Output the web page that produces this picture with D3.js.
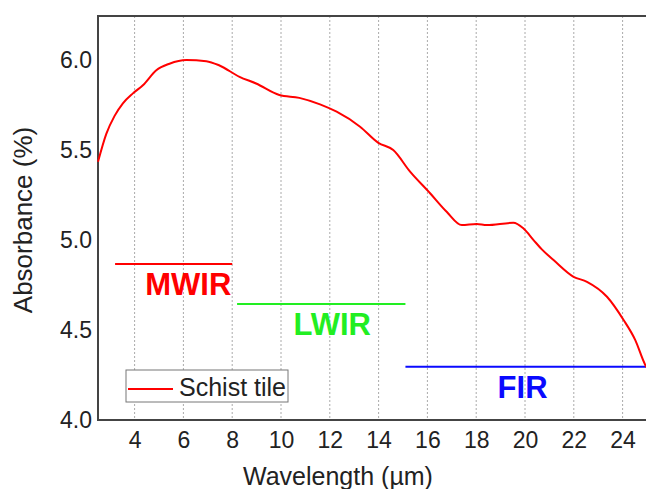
<!DOCTYPE html>
<html>
<head>
<meta charset="utf-8">
<script src="https://cdn.jsdelivr.net/npm/d3@7"></script>
<style>
  body { margin: 0; background: #fff; }
  text { font-family: "Liberation Sans", Arial, sans-serif; }
</style>
</head>
<body>
<div id="chart"></div>
<script>
"use strict"

// spectrum
let wavelength = [2.5, 2.84, 3.18, 3.52, 3.93, 4.34, 4.89, 5.43, 6.12, 6.94, 7.48, 8.3, 8.98, 9.93,
    10.75, 11.6, 12.28, 13.24, 13.99, 14.6, 15.29, 16.11, 16.79, 17.41, 18.02, 18.43, 19.52,
    19.93, 20.35, 20.69, 21.17, 21.99, 22.54, 23.36, 24.04, 24.52, 24.93, 25];
let absorbance = [5.435, 5.59, 5.69, 5.76, 5.815, 5.86, 5.944, 5.98, 6.0, 5.994, 5.97, 5.907, 5.87, 5.806,
    5.79, 5.754, 5.713, 5.63, 5.54, 5.5, 5.38, 5.26, 5.157, 5.083, 5.089, 5.083, 5.096,
    5.065, 5.0, 4.948, 4.889, 4.796, 4.768, 4.685, 4.556, 4.444, 4.306, 4.29];

// infrared bands
let bandNames = ["MWIR", "LWIR", "FIR"];
let bandStart = [3.2, 8.2, 15.1];
let bandEnd = [8.0, 15.1, 25];
let bandLevel = [4.867, 4.644, 4.296];
let bandLabelAt = [6.2, 12.1, 19.9];
let bandColors = ["#ff0000", "#22ee22", "#0a0aff"];

let xTicks = [4, 6, 8, 10, 12, 14, 16, 18, 20, 22, 24];
let yTicks = [4.0, 4.5, 5.0, 5.5, 6.0];

let width = 646;
let height = 489;
let plotLeft = 98, plotTop = 16, plotRight = 647, plotBottom = 420;

let svg = d3.select("#chart")
    .append("svg")
    .attr("width", width)
    .attr("height", height);

let x = d3.scaleLinear().domain([2.5, 25]).range([plotLeft, plotRight]);
let y = d3.scaleLinear().domain([4, 6.245]).range([plotBottom, plotTop]);

/* dotted vertical grid */
svg.append("g")
    .selectAll("line")
    .data(xTicks)
    .join("line")
    .attr("x1", d => x(d))
    .attr("x2", d => x(d))
    .attr("y1", plotTop)
    .attr("y2", plotBottom)
    .attr("stroke", "#aaa")
    .attr("stroke-width", 1)
    .attr("stroke-dasharray", "2,2");

/* axes, no tick marks */
let xAxis = svg.append("g")
    .attr("transform", `translate(0,${plotBottom})`)
    .call(d3.axisBottom(x).tickValues(xTicks).tickSize(0).tickPadding(12));
let yAxis = svg.append("g")
    .attr("transform", `translate(${plotLeft},0)`)
    .call(d3.axisLeft(y).tickValues(yTicks).tickFormat(d3.format(".1f")).tickSize(0).tickPadding(6));

[xAxis, yAxis].forEach(a => {
    a.select(".domain").remove();
    a.selectAll("text")
        .attr("font-size", 23)
        .attr("fill", "#222")
        .style("font-family", "'Liberation Sans', Arial, sans-serif");
});

/* frame: left, bottom and top (right side is off the page) */
svg.append("path")
    .attr("d", `M${plotRight},${plotTop}H${plotLeft}V${plotBottom}H${plotRight}`)
    .attr("fill", "none")
    .attr("stroke", "#444")
    .attr("stroke-width", 2);

/* band lines and labels */
let bands = svg.append("g");
bandNames.forEach((name, i) => {
    bands.append("line")
        .attr("x1", x(bandStart[i]))
        .attr("x2", Math.min(x(bandEnd[i]), width))
        .attr("y1", y(bandLevel[i]))
        .attr("y2", y(bandLevel[i]))
        .attr("stroke", bandColors[i])
        .attr("stroke-width", 2);
    bands.append("text")
        .attr("x", x(bandLabelAt[i]))
        .attr("y", y(bandLevel[i]) + 31)
        .attr("text-anchor", "middle")
        .attr("font-size", 31)
        .attr("font-weight", "bold")
        .attr("fill", bandColors[i])
        .text(name);
});

/* the spectrum */
let line = d3.line()
    .x((d, i) => x(wavelength[i]))
    .y(d => y(d))
    .curve(d3.curveMonotoneX);

svg.append("path")
    .datum(absorbance)
    .attr("d", line)
    .attr("fill", "none")
    .attr("stroke", "#ff0000")
    .attr("stroke-width", 2);

/* legend */
let legend = svg.append("g").attr("transform", "translate(126,370)");
legend.append("rect")
    .attr("width", 162)
    .attr("height", 32)
    .attr("fill", "#fff")
    .attr("stroke", "#777")
    .attr("stroke-width", 1);
legend.append("line")
    .attr("x1", 2).attr("x2", 47)
    .attr("y1", 19).attr("y2", 19)
    .attr("stroke", "#ff0000")
    .attr("stroke-width", 2);
legend.append("text")
    .attr("x", 53)
    .attr("y", 26)
    .attr("font-size", 25)
    .attr("fill", "#222")
    .text("Schist tile");

/* axis titles */
svg.append("text")
    .attr("x", 338)
    .attr("y", 485)
    .attr("text-anchor", "middle")
    .attr("font-size", 25)
    .attr("fill", "#222")
    .text("Wavelength (µm)");

svg.append("text")
    .attr("transform", "translate(32,220) rotate(-90)")
    .attr("text-anchor", "middle")
    .attr("font-size", 26)
    .attr("fill", "#222")
    .text("Absorbance (%)");
</script>
</body>
</html>
